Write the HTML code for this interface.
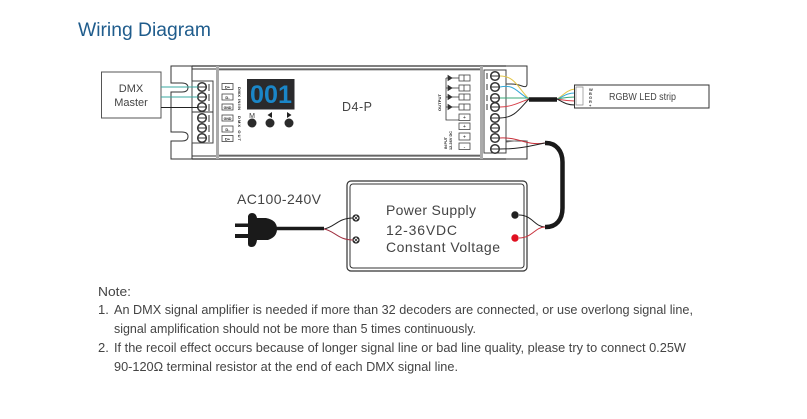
<!DOCTYPE html>
<html><head><meta charset="utf-8">
<style>html,body{margin:0;padding:0;background:#fff}svg{display:block}text{font-family:"Liberation Sans",sans-serif}</style>
</head><body>
<svg width="807" height="419" viewBox="0 0 807 419" xmlns="http://www.w3.org/2000/svg">
<rect width="807" height="419" fill="#fff"/>
<text x="78" y="36" font-size="19" fill="#1f5c8c" textLength="133" lengthAdjust="spacingAndGlyphs">Wiring Diagram</text>

<!-- device outline -->
<g fill="none" stroke="#333" stroke-width="1">
<path d="M192 66H171V83H182Q188 83 188 87.500Q188 92 182 92H171V132H182Q188 132 188 136.500Q188 141 182 141H171V159H192"/>
<path d="M192 66H506M192 159H506" stroke-width="1.300"/>
<path d="M192 69H481M192 156H481"/>
<path d="M192 66V159"/>
<path d="M506 66H527V84Q527 88 522 86T511 84L506 84M506 141H527V159H506"/>
<path d="M527 141Q520 140 506 142" stroke="#777"/>
</g>
<rect x="216" y="66" width="3" height="93" fill="#aaa"/>
<rect x="480" y="66" width="3" height="93" fill="#aaa"/>
<path d="M219 70H480M219 155H480" stroke="#999" stroke-width="1"/>

<!-- left terminal -->
<rect x="192" y="81" width="21" height="62" fill="#fff" stroke="#444"/>
<path d="M192 112H213" stroke="#333"/>
<g fill="#fff" stroke="#333" stroke-width="1.500">
<circle cx="202" cy="87" r="4.300"/><circle cx="202" cy="97" r="4.300"/><circle cx="202" cy="107" r="4.300"/>
<circle cx="202" cy="118" r="4.300"/><circle cx="202" cy="128" r="4.300"/><circle cx="202" cy="138" r="4.300"/>
</g>
<g stroke="#333" stroke-width="1" fill="none">
<path d="M209 84v7M209 94v7M209 104v7M209 115v7M209 125v7M209 135v7"/>
<path d="M197 87h10M197 97h10M197 107h10M197 118h10M197 128h10M197 138h10"/>
</g>

<!-- left label boxes -->
<g fill="#fff" stroke="#444" stroke-width="0.800">
<rect x="222" y="83.500" width="11" height="6"/><rect x="222" y="94" width="11" height="6"/><rect x="222" y="104" width="11" height="6"/>
<rect x="222" y="115" width="11" height="6"/><rect x="222" y="126" width="11" height="6"/><rect x="222" y="135.500" width="11" height="6"/>
</g>
<g font-size="4" fill="#222" text-anchor="middle" font-weight="bold">
<text x="227.500" y="88.300">D+</text><text x="227.500" y="98.800">D-</text><text x="227.500" y="108.800" font-size="3.500">GND</text>
<text x="227.500" y="119.800" font-size="3.500">GND</text><text x="227.500" y="130.800">D-</text><text x="227.500" y="140.300">D+</text>
</g>
<text transform="translate(238,87) rotate(90)" font-size="4" fill="#222" font-weight="bold" textLength="23">DMX IN/IN</text>
<text transform="translate(238,116) rotate(90)" font-size="4" fill="#222" font-weight="bold" textLength="25">DMX OUT</text>

<!-- display -->
<rect x="247" y="79" width="47.500" height="30.500" fill="#2a2a2c"/>
<text x="250" y="103" font-size="25" font-weight="bold" fill="#1a86c8" textLength="42" lengthAdjust="spacingAndGlyphs">001</text>

<!-- buttons -->
<text x="252" y="118" font-size="7" fill="#333" text-anchor="middle">M</text>
<path d="M267.500 115L272 112V118Z M287 112L291.500 115L287 118Z" fill="#222"/>
<circle cx="252" cy="123" r="4.500" fill="#2b2b2b"/><circle cx="270" cy="123" r="4.500" fill="#2b2b2b"/><circle cx="289" cy="123" r="4.500" fill="#2b2b2b"/>

<text x="342" y="111" font-size="12.500" fill="#444" textLength="30">D4-P</text>

<!-- right labels -->
<g fill="#fff" stroke="#444" stroke-width="0.800">
<rect x="459" y="75" width="11" height="6"/><rect x="459" y="85" width="11" height="6"/><rect x="459" y="94" width="11" height="6"/><rect x="459" y="104" width="11" height="6"/>
<rect x="459" y="114" width="11" height="6.500"/><rect x="459" y="123" width="11" height="6.500"/><rect x="459" y="133" width="11" height="7"/><rect x="459" y="143" width="11" height="6.500"/>
</g>
<path d="M464 75v6M464 85v6M464 94v6M464 104v6" stroke="#444" stroke-width="0.800"/>
<g font-size="5" fill="#222" text-anchor="middle">
<text x="464.500" y="119">+</text><text x="464.500" y="128">+</text><text x="464.500" y="138.500">+</text><text x="464.500" y="148.500">-</text>
</g>
<g stroke="#333" stroke-width="0.800" fill="#333">
<path d="M446 78H459M446 88H459M446 97H459M446 107H459" fill="none"/>
<path d="M448 75.500L452 78L448 80.500ZM448 85.500L452 88L448 90.500ZM448 94.500L452 97L448 99.500ZM448 104.500L452 107L448 109.500Z"/>
<path d="M446 78V120H459" fill="none"/>
</g>
<text transform="translate(441,111) rotate(-90)" font-size="4" fill="#222" font-weight="bold" textLength="17">OUTPUT</text>
<text transform="translate(447,149) rotate(-90)" font-size="3.800" fill="#222" font-weight="bold" textLength="12">IN PUT</text>
<text transform="translate(452,150) rotate(-90)" font-size="3.800" fill="#222" font-weight="bold" textLength="19">12-36V DC</text>

<!-- right terminal -->
<rect x="484" y="70" width="22" height="83" fill="#fff" stroke="#444"/>
<g fill="#fff" stroke="#333" stroke-width="1.500">
<circle cx="495" cy="76" r="4.300"/><circle cx="495" cy="87" r="4.300"/><circle cx="495" cy="98" r="4.300"/><circle cx="495" cy="107" r="4.300"/>
<circle cx="495" cy="118" r="4.300"/><circle cx="495" cy="128" r="4.300"/><circle cx="495" cy="138" r="4.300"/><circle cx="495" cy="149" r="4.300"/>
</g>
<path d="M490 76h10M490 87h10M490 98h10M490 107h10M490 118h10M490 128h10M490 138h10M490 149h10M487 73v6M487 84v6M487 95v6M487 104v6" stroke="#333" stroke-width="1" fill="none"/>

<!-- DMX master -->
<rect x="101.500" y="72" width="59.500" height="46" fill="#fff" stroke="#555"/>
<text x="131" y="92" font-size="11" fill="#444" text-anchor="middle">DMX</text>
<text x="131" y="106" font-size="11" fill="#444" text-anchor="middle">Master</text>
<path d="M161 87H198M161 97H198" stroke="#3aa9a0" stroke-width="1" fill="none"/>
<path d="M161 107.500H198" stroke="#222" stroke-width="1" fill="none"/>

<!-- output wires -->
<g fill="none" stroke-width="1">
<path d="M500 76C515 76 518 88 529 99" stroke="#e3c64a"/>
<path d="M500 87C515 84 516 92 529 99" stroke="#35a9d8"/>
<path d="M500 98H529" stroke="#38a878"/>
<path d="M500 107C512 107 520 102 529 99" stroke="#d8404a"/>
<path d="M500 118C515 118 520 108 529 99" stroke="#222"/>
<path d="M557 99C563 96 566 90 575 89" stroke="#e3c64a"/>
<path d="M557 99C563 97 566 93 575 93" stroke="#35a9d8"/>
<path d="M557 99C563 98 566 97 575 97" stroke="#38a878"/>
<path d="M557 99C563 100 566 101 575 101" stroke="#d8404a"/>
<path d="M557 99C563 102 566 105 575 105" stroke="#222"/>
</g>
<path d="M529 99.500H557" stroke="#1a1a1a" stroke-width="4.500"/>

<!-- RGBW strip -->
<rect x="574.500" y="85" width="134.500" height="23" fill="#fff" stroke="#333"/>
<path d="M576 87h7v18h-7z" fill="none" stroke="#888" stroke-width="0.700"/>
<g font-size="4" fill="#333" font-weight="bold"><text x="589" y="91">W</text><text x="589" y="95">B</text><text x="589" y="99">G</text><text x="589" y="103">R</text><text x="589" y="107">+</text></g>
<text x="609" y="100" font-size="10" fill="#444" textLength="67" lengthAdjust="spacingAndGlyphs">RGBW LED strip</text>

<!-- power cable -->
<path d="M545 143H546C556 143 562.500 151 562.500 162V208C562.500 220 556 227 546 227H545" fill="none" stroke="#1a1a1a" stroke-width="4.500"/>
<path d="M500 138C520 137 525 146 545 143" fill="none" stroke="#c8323c" stroke-width="1"/>
<path d="M500 149C520 149 530 146 545 143" fill="none" stroke="#222" stroke-width="1"/>

<!-- PSU -->
<rect x="347" y="181" width="180" height="90" rx="4" fill="#fff" stroke="#333" stroke-width="1.200"/>
<rect x="350" y="184" width="174" height="84" rx="3" fill="none" stroke="#333" stroke-width="1"/>
<text x="386" y="215" font-size="14" fill="#444" textLength="90">Power Supply</text>
<text x="386" y="235" font-size="14" fill="#444" textLength="71">12-36VDC</text>
<text x="386" y="252" font-size="14" fill="#444" textLength="114">Constant Voltage</text>
<g fill="#fff" stroke="#222" stroke-width="1.300">
<circle cx="356" cy="218" r="3"/><circle cx="356" cy="240" r="3"/>
</g>
<path d="M354 216l4 4m0-4l-4 4M354 238l4 4m0-4l-4 4" stroke="#222" stroke-width="0.800"/>
<circle cx="515" cy="215" r="3.700" fill="#222"/>
<circle cx="515" cy="238" r="3.700" fill="#e01020"/>
<path d="M519 215C532 215 535 227 545 227" fill="none" stroke="#222"/>
<path d="M519 238C532 238 535 227 545 227" fill="none" stroke="#c8323c"/>

<!-- plug -->
<text x="237" y="204" font-size="14" fill="#444" textLength="84">AC100-240V</text>
<path d="M235 223.500H249V227H235ZM235 234H249V238H235Z" fill="#1a1a1a"/>
<path d="M248 216Q249 213 252 213Q256 213 257 218H266Q277 220 277 229Q277 237 268 240H257Q256 247 252 247Q248 247 248 244Z" fill="#1a1a1a"/>
<path d="M275 228.500H324" stroke="#1a1a1a" stroke-width="3.500"/>
<path d="M324 229C335 227 338 218 353 218" fill="none" stroke="#222"/>
<path d="M324 229C335 231 338 240 353 240" fill="none" stroke="#a03040"/>

<!-- notes -->
<g font-size="13" fill="#444">
<text x="98" y="296" textLength="33" lengthAdjust="spacingAndGlyphs">Note:</text>
<text x="98" y="314">1.</text>
<text x="114" y="314" textLength="579" lengthAdjust="spacingAndGlyphs">An DMX signal amplifier is needed if more than 32 decoders are connected, or use overlong signal line,</text>
<text x="114" y="333" textLength="362" lengthAdjust="spacingAndGlyphs">signal amplification should not be more than 5 times continuously.</text>
<text x="98" y="352">2.</text>
<text x="114" y="352" textLength="572" lengthAdjust="spacingAndGlyphs">If the recoil effect occurs because of longer signal line or bad line quality, please try to connect 0.25W</text>
<text x="114" y="371" textLength="344" lengthAdjust="spacingAndGlyphs">90-120Ω terminal resistor at the end of each DMX signal line.</text>
</g>
</svg>
</body></html>
